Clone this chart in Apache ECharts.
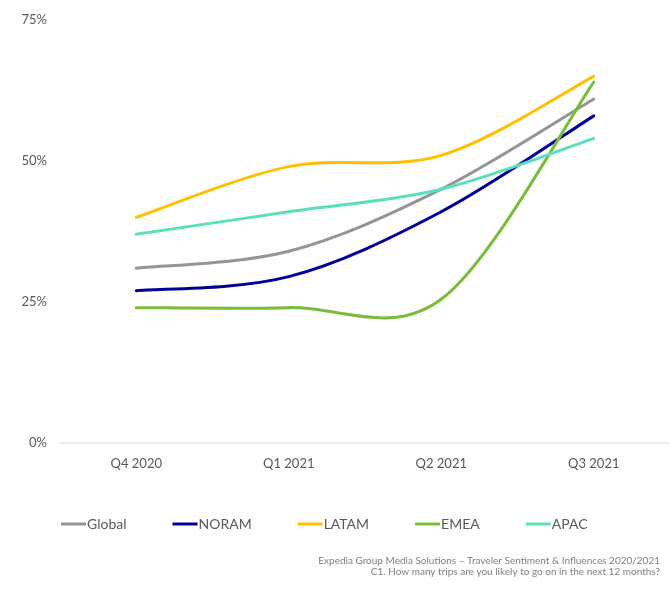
<!DOCTYPE html>
<html>
<head>
<meta charset="utf-8">
<script src="https://cdn.jsdelivr.net/npm/echarts@6/dist/echarts.min.js"></script>
<style>
html,body{margin:0;padding:0;background:#fff;}
#chart{width:670px;height:597px;}
</style>
</head>
<body>
<div id="chart"></div>
<script>
var categories = ['Q4 2020', 'Q1 2021', 'Q2 2021', 'Q3 2021'];
var yTicks = [0, 25, 50, 75];
var globalVals = [31, 34, 45, 61];
var noramVals = [27, 29.5, 41, 58];
var latamVals = [40, 49, 51, 65];
var emeaVals = [24, 24, 25.5, 64];
var apacVals = [37, 41, 45, 54];
var seriesNames = ['Global', 'NORAM', 'LATAM', 'EMEA', 'APAC'];
var colors = ['#959595', '#000099', '#ffc000', '#78be3a', '#5cdfbc'];
var footnote = ['Expedia Group Media Solutions \u2013 Traveler Sentiment & Influences 2020/2021',
                'C1. How many trips are you likely to go on in the next 12 months?'];

var dataSets = [globalVals, noramVals, latamVals, emeaVals, apacVals];
var fontFam = 'Lato, "Noto Sans", sans-serif';

// Office-style smoothed line: cubic bezier segments, tangent = (P[i+1]-P[i-1])/6
function makeRenderer(vals, color) {
  return function (params, api) {
    var i = params.dataIndex;
    var n = vals.length;
    if (i >= n - 1) return null;
    var p = function (k) {
      k = Math.max(0, Math.min(n - 1, k));
      return api.coord([k, vals[k]]);
    };
    var p0 = p(i - 1), p1 = p(i), p2 = p(i + 1), p3 = p(i + 2);
    var t = 1 / 6;
    return {
      type: 'bezierCurve',
      shape: {
        x1: p1[0], y1: p1[1],
        x2: p2[0], y2: p2[1],
        cpx1: p1[0] + (p2[0] - p0[0]) * t, cpy1: p1[1] + (p2[1] - p0[1]) * t,
        cpx2: p2[0] - (p3[0] - p1[0]) * t, cpy2: p2[1] - (p3[1] - p1[1]) * t
      },
      style: {stroke: color, lineWidth: 3, fill: null, lineCap: 'round'},
      silent: true
    };
  };
}

var chart = echarts.init(document.getElementById('chart'));
chart.setOption({
  animation: false,
  color: colors,
  grid: {left: 60, right: 0, top: 20, bottom: 154, containLabel: false},
  legend: {
    left: 56, top: 512,
    itemWidth: 25, itemHeight: 3, itemGap: 46,
    icon: 'rect',
    textStyle: {color: '#595959', fontSize: 14, fontFamily: fontFam, padding: [0,0,0,-4]},
    data: seriesNames
  },
  xAxis: {
    type: 'category',
    data: categories,
    boundaryGap: true,
    axisLine: {lineStyle: {color: '#e6e6e6', width: 1.5}},
    axisTick: {show: false},
    axisLabel: {color: '#595959', fontSize: 13, fontFamily: fontFam, margin: 14}
  },
  yAxis: {
    type: 'value',
    min: yTicks[0], max: yTicks[yTicks.length-1], interval: 25,
    axisLine: {show: false},
    axisTick: {show: false},
    splitLine: {show: false},
    axisLabel: {color: '#595959', fontSize: 13, fontFamily: fontFam, margin: 13, formatter: '{value}%'}
  },
  graphic: [
    {type: 'text', right: 10, top: 556, style: {text: footnote[0], fill: '#7f7f7f', font: '10px ' + fontFam, textAlign: 'right'}},
    {type: 'text', right: 10, top: 567, style: {text: footnote[1], fill: '#7f7f7f', font: '10px ' + fontFam, textAlign: 'right'}}
  ],
  series: seriesNames.map(function(n, i){
    return {
      name: n, type: 'custom',
      data: dataSets[i].map(function (v, k) { return [k, v]; }),
      encode: {x: 0, y: 1},
      itemStyle: {color: colors[i]},
      renderItem: makeRenderer(dataSets[i], colors[i])
    };
  })
});
</script>
</body>
</html>
